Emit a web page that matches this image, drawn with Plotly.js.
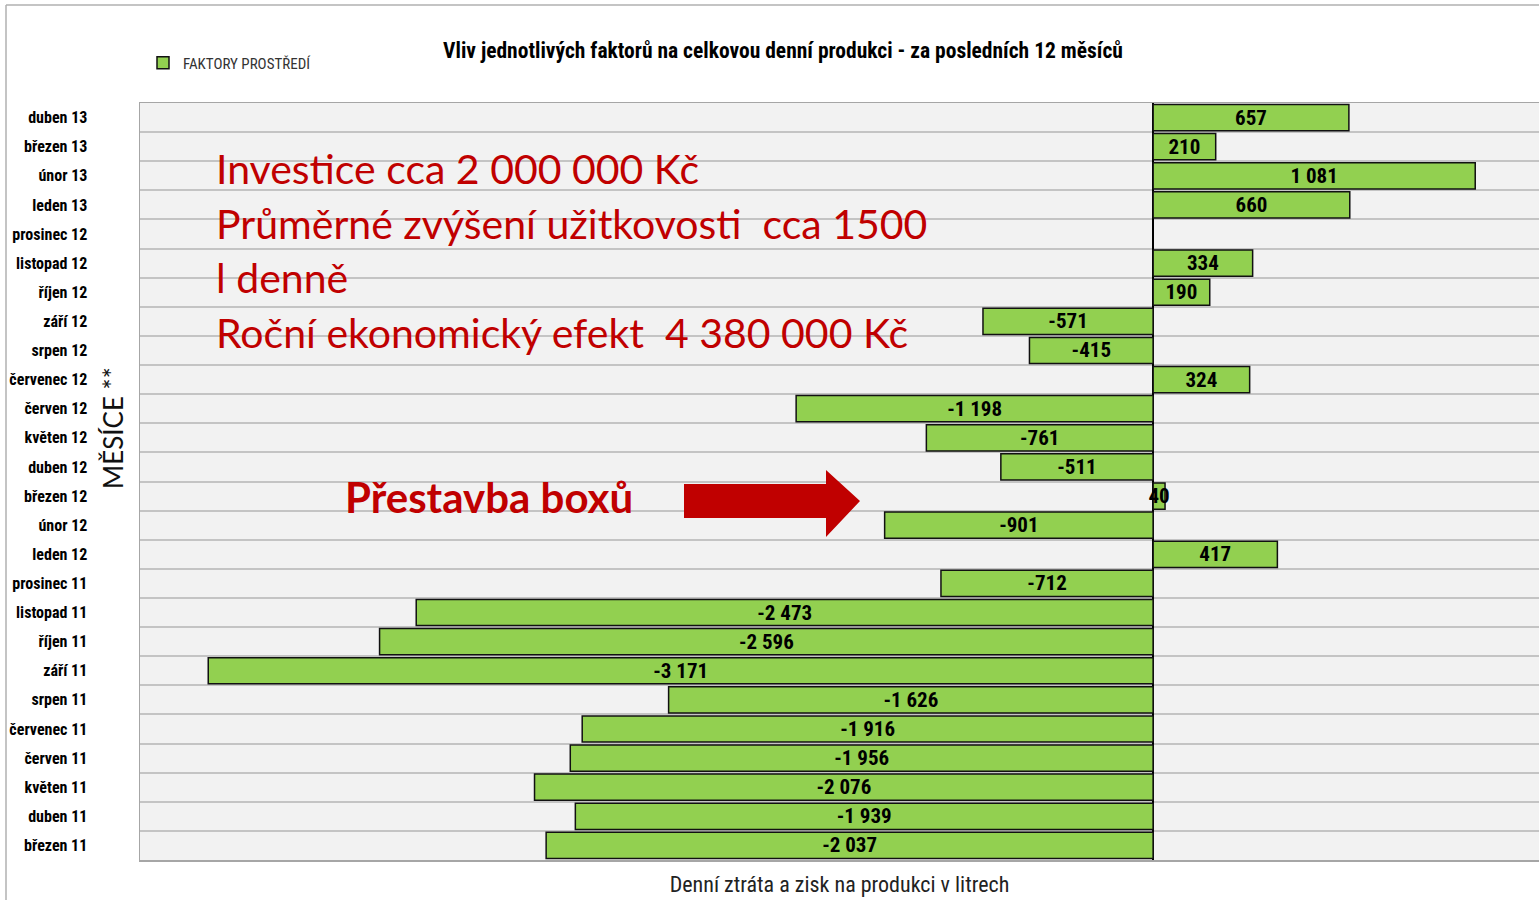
<!DOCTYPE html>
<html>
<head>
<meta charset="utf-8">
<script src="https://cdn.plot.ly/plotly-3.0.1.min.js"></script>
<style>
  body { margin: 0; background: #fff; }
  #chart { width: 1539px; height: 900px; }
</style>
</head>
<body>
<div id="chart"></div>
<script>
// months from oldest (bottom) to newest (top)
const months = ['březen 11', 'duben 11', 'květen 11', 'červen 11', 'červenec 11', 'srpen 11',
    'září 11', 'říjen 11', 'listopad 11', 'prosinec 11', 'leden 12', 'únor 12', 'březen 12',
    'duben 12', 'květen 12', 'červen 12', 'červenec 12', 'srpen 12', 'září 12', 'říjen 12',
    'listopad 12', 'prosinec 12', 'leden 13', 'únor 13', 'březen 13', 'duben 13'];
const litres = [-2037, -1939, -2076, -1956, -1916, -1626,
    -3171, -2596, -2473, -712, 417, -901, 40,
    -511, -761, -1198, 324, -415, -571, 190,
    334, null, 660, 1081, 210, 657];
const seriesName = 'FAKTORY PROSTŘEDÍ';
const noteLines = ['Investice cca 2 000 000 Kč', 'Průměrné zvýšení užitkovosti  cca 1500', 'l denně', 'Roční ekonomický efekt  4 380 000 Kč'];
const noteY = [168, 223, 277, 332];

const narrow = '"Liberation Sans Narrow", "Arial Narrow", "Roboto Condensed", Lato, sans-serif';
const red = '#c00000';

const L = 140, T = 103, W = 1399, H = 757;
const px = x => (x - L) / W;
const py = y => (T + H - y) / H;

const data = [{
    type: 'bar',
    orientation: 'h',
    name: seriesName,
    y: months,
    x: litres,
    marker: { color: '#92d050', line: { color: '#111', width: 1.5 } },
    texttemplate: '%{x:,}',
    textposition: 'inside',
    insidetextanchor: 'middle',
    textangle: 0,
    constraintext: 'none',
    cliponaxis: false,
    textfont: { family: narrow, size: 21, color: '#000', weight: 'bold' },
    hoverinfo: 'y+x'
}];

const annotations = noteLines.map((t, i) => ({
    xref: 'paper', yref: 'paper', x: px(214), y: py(noteY[i]),
    xanchor: 'left', yanchor: 'middle', showarrow: false,
    text: t, font: { family: 'Lato, sans-serif', size: 41, color: red }
}));
annotations.push({
    xref: 'paper', yref: 'paper', x: px(343), y: py(497),
    xanchor: 'left', yanchor: 'middle', showarrow: false,
    text: '<b>Přestavba boxů</b>', font: { family: 'Lato, sans-serif', size: 42, color: red }
});
annotations.push({
    xref: 'paper', yref: 'paper', x: px(113), y: py(428),
    xanchor: 'center', yanchor: 'middle', showarrow: false, textangle: -90,
    text: 'MĚSÍCE **', font: { family: 'Lato, sans-serif', size: 26, color: '#111' }
});

const arrow = `M${px(684)},${py(484)} L${px(826)},${py(484)} L${px(826)},${py(470)} L${px(860)},${py(501)} ` +
    `L${px(826)},${py(537)} L${px(826)},${py(518)} L${px(684)},${py(518)} Z`;

const layout = {
    width: 1539, height: 900,
    margin: { l: L, r: 0, t: T, b: 900 - T - H },
    paper_bgcolor: '#fff',
    plot_bgcolor: '#f2f2f2',
    separators: ', ',
    bargap: 0.1,
    showlegend: true,
    legend: {
        x: px(143), y: py(63), xanchor: 'left', yanchor: 'middle',
        font: { family: narrow, size: 15, color: '#333' },
        itemwidth: 30, bgcolor: 'rgba(0,0,0,0)'
    },
    title: {
        text: '<b>Vliv jednotlivých faktorů na celkovou denní produkci - za posledních 12 měsíců</b>',
        x: 783 / 1539, xref: 'container', xanchor: 'center',
        y: 1 - 50 / 900, yref: 'container', yanchor: 'middle',
        font: { family: narrow, size: 21.5, color: '#000' }
    },
    xaxis: {
        range: [-3400, 1295],
        showticklabels: false,
        ticks: '',
        showgrid: false,
        zeroline: true, zerolinecolor: '#000', zerolinewidth: 2.5,
        showline: true, linecolor: '#a6a6a6', linewidth: 1.5, mirror: true,
        title: { text: 'Denní ztráta a zisk na produkci v litrech', standoff: 16,
            font: { family: narrow, size: 22, color: '#222' } },
        fixedrange: true
    },
    yaxis: {
        type: 'category',
        tickson: 'boundaries',
        ticks: '',
        showgrid: true, gridcolor: '#c4c4c4', gridwidth: 2,
        showline: true, linecolor: '#a6a6a6', linewidth: 1.5, mirror: true,
        ticklabelstandoff: 48,
        tickfont: { family: narrow, size: 16, color: '#000', weight: 'bold' },
        fixedrange: true
    },
    annotations: annotations,
    shapes: [
        { type: 'path', xref: 'paper', yref: 'paper', path: arrow,
          fillcolor: red, line: { width: 0 } },
        { type: 'line', xref: 'paper', yref: 'paper', x0: px(6), x1: 1.01, y0: py(5), y1: py(5),
          line: { color: '#b0b0b0', width: 1.5 } },
        { type: 'line', xref: 'paper', yref: 'paper', x0: px(6), x1: px(6), y0: py(5), y1: py(905),
          line: { color: '#b0b0b0', width: 1.5 } }
    ]
};

Plotly.newPlot('chart', data, layout, { displayModeBar: false, staticPlot: true });
</script>
</body>
</html>
